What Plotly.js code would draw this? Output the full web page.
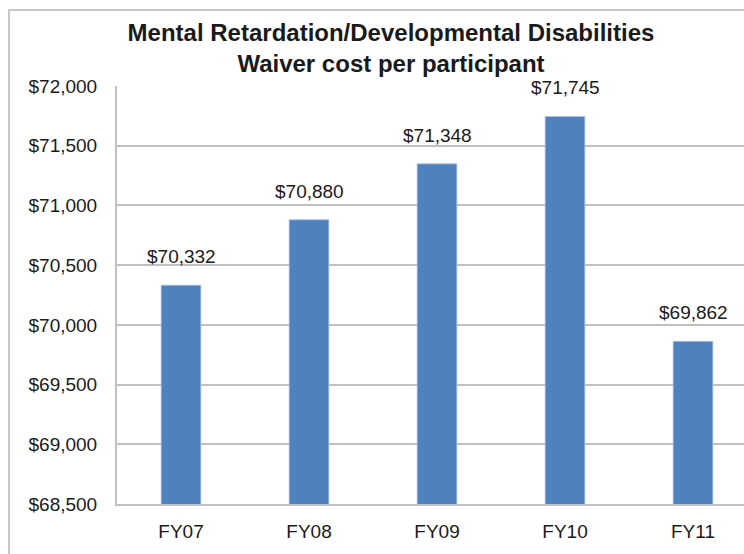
<!DOCTYPE html>
<html>
<head>
<meta charset="utf-8">
<script src="https://cdn.plot.ly/plotly-3.0.1.min.js"></script>
<style>
  html, body { margin: 0; padding: 0; width: 744px; height: 554px; overflow: hidden; background: #ffffff; }
  #frame { position: absolute; left: 8px; top: 9px; width: 790px; height: 580px; border: 2px solid #c6c6c6; background: #fff; }
  #chart { position: absolute; left: 0px; top: 0px; }
</style>
</head>
<body>
<div id="frame"><div id="chart"></div></div>
<script>
const categories = ["FY07", "FY08", "FY09", "FY10", "FY11"];
const costs = [70332, 70880, 71348, 71745, 69862];
const tickValues = [68500, 69000, 69500, 70000, 70500, 71000, 71500, 72000];
const tickLabels = ["$68,500", "$69,000", "$69,500", "$70,000", "$70,500", "$71,000", "$71,500", "$72,000"];
const valueLabels = costs.map(v => "$" + v.toLocaleString("en-US"));

const font = "'Liberation Sans', Arial, sans-serif";
const textColor = "#1a1a1a";

const trace = {
  type: "bar",
  x: categories,
  y: costs,
  base: 0,
  width: 0.31,
  marker: { color: "#4F81BD", line: { color: "#a9c1e0", width: 0.8 } },
  hoverinfo: "skip"
};

const annotations = categories.map((c, i) => ({
  x: c, y: costs[i], xref: "x", yref: "y",
  text: valueLabels[i], showarrow: false,
  yanchor: "bottom", yshift: 16,
  font: { family: font, size: 19, color: textColor }
}));

const layout = {
  width: 762, height: 560,
  margin: { l: 107, r: 15, t: 75, b: 67 },
  paper_bgcolor: "rgba(0,0,0,0)",
  plot_bgcolor: "#ffffff",
  showlegend: false,
  title: {
    text: "<b>Mental Retardation/Developmental Disabilities<br>Waiver cost per participant</b>",
    font: { family: "'Liberation Sans Narrow', 'Liberation Sans', Arial, sans-serif", size: 24, color: textColor },
    x: 0.5, xanchor: "center", xref: "container",
    y: 0.946, yanchor: "top", yref: "container"
  },
  xaxis: {
    type: "category",
    categoryarray: categories,
    range: [-0.5, 4.5],
    showgrid: false,
    showline: true, linecolor: "#c0c0c0", linewidth: 2,
    ticks: "", ticklabelstandoff: 9,
    tickfont: { family: font, size: 19, color: textColor },
    fixedrange: true
  },
  yaxis: {
    range: [68500, 72000],
    tickvals: tickValues,
    ticktext: tickLabels,
    showgrid: true, gridcolor: "#c0c0c0", gridwidth: 2,
    showline: true, linecolor: "#c0c0c0", linewidth: 2,
    zeroline: false,
    ticks: "", ticklabelstandoff: 14,
    tickfont: { family: font, size: 19, color: textColor },
    fixedrange: true
  },
  annotations: annotations
};

Plotly.newPlot("chart", [trace], layout, { displayModeBar: false, staticPlot: true });
</script>
</body>
</html>
